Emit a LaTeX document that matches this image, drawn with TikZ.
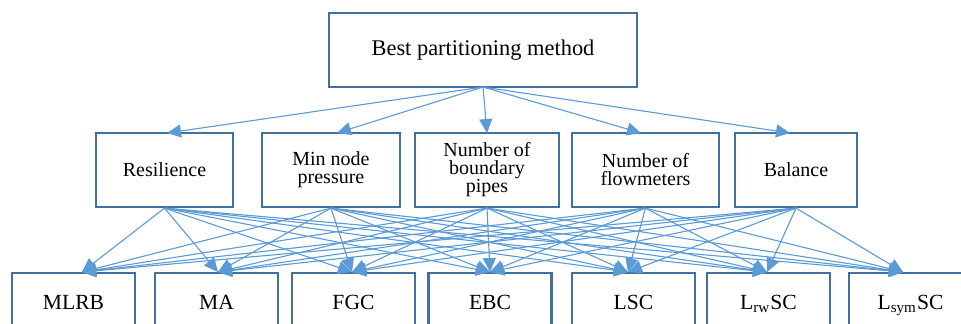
\documentclass[tikz,border=0pt]{standalone}
\usepackage{fontspec}
\setmainfont{Liberation Serif}
\usetikzlibrary{arrows.meta}
\definecolor{linkblue}{RGB}{91,155,213}
\definecolor{boxblue}{RGB}{65,113,156}
\begin{document}
\begin{tikzpicture}[x=0.5pt,y=-0.5pt,
  box/.style={draw=boxblue,line width=1.1pt,fill=white,inner sep=0pt,align=center},
  topbox/.style={box,minimum width=154pt,minimum height=37pt,font=\fontsize{11.2pt}{13pt}\selectfont},
  midbox/.style={box,minimum height=37pt,font=\fontsize{10pt}{9pt}\selectfont},
  botbox/.style={box,anchor=north,minimum width=61.5pt,text height=18pt,text depth=26pt,inner ysep=0pt,font=\fontsize{10.8pt}{12pt}\selectfont},
  link/.style={draw=linkblue,line width=0.55pt,-{Triangle[length=7pt,width=6.5pt]}}]
\useasboundingbox (0,0) rectangle (961,323);
\clip (0,0) rectangle (961,323);
\fill[white] (0,0) rectangle (961,323);
% top
\node[topbox] (top) at (483,50) {Best partitioning method};
% middle
\node[midbox,minimum width=68.5pt] (res) at (164.5,170) {Resilience};
\node[midbox,minimum width=69pt] (mnp) at (331,170) {Min node\\pressure};
\node[midbox,minimum width=72pt] (nbp) at (487,170) {Number of\\boundary\\pipes};
\node[midbox,minimum width=73.5pt] (nfm) at (645.5,170) {Number of\\flowmeters};
\node[midbox,minimum width=61pt] (bal) at (796,170) {Balance};
% bottom
\node[botbox] (mlrb) at (73.5,272) {MLRB};
\node[botbox] (ma) at (216.5,272) {MA};
\node[botbox] (fgc) at (353.5,272) {FGC};
\node[botbox] (ebc) at (490,272) {EBC};
\node[botbox] (lsc) at (633.5,272) {LSC};
\node[botbox] (lrw) at (768.5,272) {L\textsubscript{rw}SC};
\node[botbox] (lsym) at (910.5,272) {L\textsubscript{sym}SC};
% arrow end points
\coordinate (m1) at (167,133);
\coordinate (m2) at (337,133);
\coordinate (m3) at (487,133);
\coordinate (m4) at (641,133);
\coordinate (m5) at (790,133);
\coordinate (b1) at (82,272);
\coordinate (b2) at (218,272);
\coordinate (b3) at (352,272);
\coordinate (b4) at (490,272);
\coordinate (b5) at (628,272);
\coordinate (b6) at (767,272);
\coordinate (b7) at (903,272);
\coordinate (ts) at (483,87);
% top to middle
\foreach \t in {m1,m2,m3,m4,m5}
  \draw[link] (ts) -- (\t);
% middle to bottom
\foreach \s in {res,mnp,nbp,nfm,bal}
  \foreach \t in {b1,b2,b3,b4,b5,b6,b7}
    \draw[link] (\s.south) -- (\t);
\end{tikzpicture}
\end{document}
